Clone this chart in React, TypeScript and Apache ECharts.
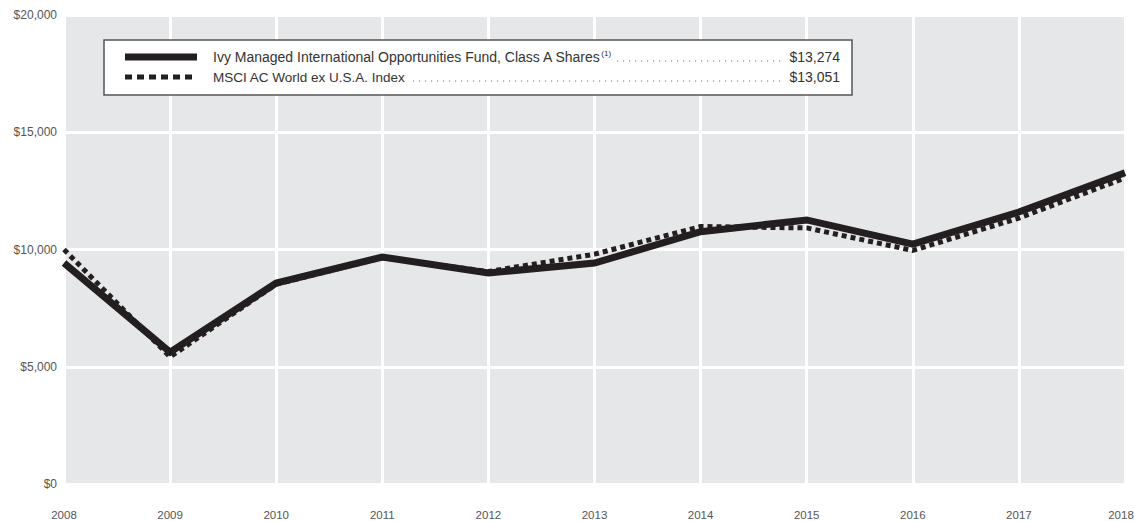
import React, { useEffect, useRef } from "react";
import * as echarts from "echarts";

const years = ["2008", "2009", "2010", "2011", "2012", "2013", "2014", "2015", "2016", "2017", "2018"];
const fundValues = [9425, 5620, 8570, 9680, 9000, 9420, 10760, 11260, 10230, 11600, 13274];
const indexValues = [10000, 5420, 8520, 9650, 9060, 9800, 10980, 10920, 9960, 11340, 13051];
const fundName = "Ivy Managed International Opportunities Fund, Class A Shares";
const fundSup = "(1)";
const indexName = "MSCI AC World ex U.S.A. Index";
const fundEnd = "$13,274";
const indexEnd = "$13,051";

const FONT = "'Liberation Sans', Arial, sans-serif";
const INK = "#231f20";

export default function App() {
  const ref = useRef<HTMLDivElement>(null);
  useEffect(() => {
    if (!ref.current) return;
    const chart = echarts.init(ref.current, null, { renderer: "svg" });
    const legendY1 = 57;
    const legendY2 = 77;
    const Z = 100;
    const option: any = {
      animation: false,
      textStyle: { fontFamily: FONT },
      grid: {
        left: 64,
        right: 10,
        top: 15,
        bottom: 37,
        containLabel: false,
        outerBoundsMode: "none",
        show: true,
        backgroundColor: "#e6e7e8",
        borderWidth: 0,
      },
      xAxis: {
        type: "category",
        data: years,
        boundaryGap: false,
        axisLine: { show: false },
        axisTick: { show: false },
        axisLabel: {
          color: "#555",
          fontSize: 11.5,
          lineHeight: 12,
          margin: 25,
          fontFamily: FONT,
          formatter: (v: string, i: number) => (i === years.length - 1 ? "{e|" + v + "}" : v),
          rich: {
            e: {
              color: "#555",
              fontSize: 11.5,
              lineHeight: 12,
              fontFamily: FONT,
              padding: [0, 8, 0, 0],
            },
          },
        },
        splitLine: { show: true, lineStyle: { color: "#ffffff", width: 3 } },
      },
      yAxis: {
        type: "value",
        min: 0,
        max: 20000,
        interval: 5000,
        axisLine: { show: false },
        axisTick: { show: false },
        axisLabel: {
          color: "#555",
          fontSize: 12,
          margin: 7,
          fontFamily: FONT,
          formatter: (v: number) => "$" + v.toLocaleString("en-US"),
        },
        splitLine: { show: true, lineStyle: { color: "#ffffff", width: 3 } },
      },
      series: [
        {
          name: fundName,
          type: "line",
          data: fundValues,
          symbol: "none",
          lineStyle: { color: INK, width: 7, join: "miter" },
          z: 2,
        },
        {
          name: indexName,
          type: "line",
          data: indexValues,
          symbol: "none",
          lineStyle: { color: INK, width: 5, type: [5, 4] },
          z: 3,
        },
      ],
      graphic: [
        {
          type: "rect",
          z: Z,
          shape: { x: 104, y: 40, width: 748, height: 55 },
          style: { fill: "#ffffff", stroke: "#555", lineWidth: 1.5 },
        },
        {
          type: "line",
          z: Z + 1,
          shape: { x1: 125, y1: legendY1, x2: 197, y2: legendY1 },
          style: { stroke: INK, lineWidth: 7 },
        },
        {
          type: "line",
          z: Z + 1,
          shape: { x1: 125, y1: legendY2, x2: 197, y2: legendY2 },
          style: { stroke: INK, lineWidth: 5, lineDash: [7, 5] },
        },
        {
          type: "line",
          z: Z + 1,
          shape: { x1: 215, y1: legendY1 + 4, x2: 783, y2: legendY1 + 4 },
          style: { stroke: "#777", lineWidth: 1.2, lineDash: [1.2, 4.8] },
        },
        {
          type: "line",
          z: Z + 1,
          shape: { x1: 215, y1: legendY2 + 4, x2: 783, y2: legendY2 + 4 },
          style: { stroke: "#777", lineWidth: 1.2, lineDash: [1.2, 4.8] },
        },
        {
          type: "text",
          z: Z + 2,
          x: 213,
          y: legendY1,
          style: {
            text: "{a|" + fundName + "}{s|" + fundSup + "}",
            verticalAlign: "middle",
            backgroundColor: "#ffffff",
            padding: [0, 3, 0, 0],
            rich: {
              a: { fontSize: 14, fontFamily: FONT, fill: "#333", lineHeight: 16 },
              s: { fontSize: 8, fontFamily: FONT, fill: "#333", verticalAlign: "top", lineHeight: 16 },
            },
          },
        },
        {
          type: "text",
          z: Z + 2,
          x: 213,
          y: legendY2,
          style: {
            text: indexName,
            fontSize: 13.5,
            fontFamily: FONT,
            fill: "#333",
            verticalAlign: "middle",
            backgroundColor: "#ffffff",
            padding: [0, 3, 0, 0],
          },
        },
        {
          type: "text",
          z: Z + 2,
          x: 840,
          y: legendY1,
          style: {
            text: fundEnd,
            fontSize: 14,
            fontFamily: FONT,
            fill: "#333",
            align: "right",
            verticalAlign: "middle",
            backgroundColor: "#ffffff",
            padding: [0, 0, 0, 3],
          },
        },
        {
          type: "text",
          z: Z + 2,
          x: 840,
          y: legendY2,
          style: {
            text: indexEnd,
            fontSize: 14,
            fontFamily: FONT,
            fill: "#333",
            align: "right",
            verticalAlign: "middle",
            backgroundColor: "#ffffff",
            padding: [0, 0, 0, 3],
          },
        },
      ],
    };
    chart.setOption(option);
    return () => chart.dispose();
  }, []);
  return (
    <div
      ref={ref}
      style={{ position: "fixed", left: 0, top: 0, width: 1135, height: 521, background: "#ffffff" }}
    />
  );
}
